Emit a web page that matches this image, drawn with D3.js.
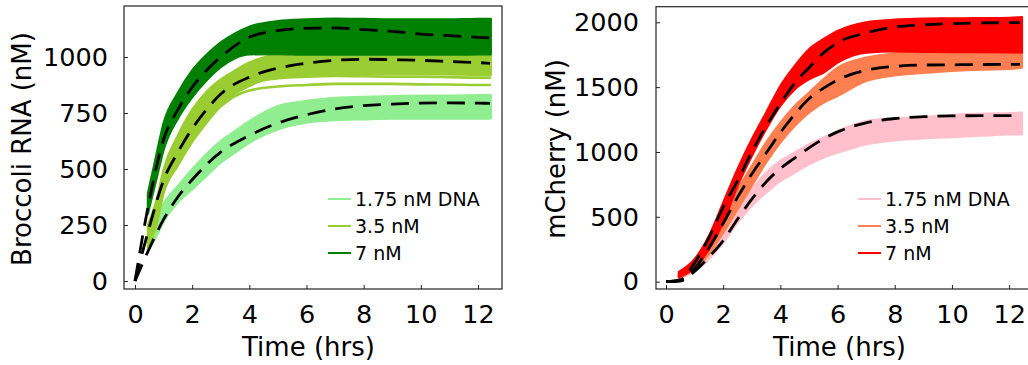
<!DOCTYPE html>
<html lang="en">
<head>
<meta charset="utf-8">
<title>Broccoli RNA and mCherry</title>
<script src="https://cdn.jsdelivr.net/npm/d3@7/dist/d3.min.js"></script>
<style>
body { margin: 0; background: #fff; }
svg { display: block; }
text { font-family: "DejaVu Sans", sans-serif; fill: #000; }
.axis path { display: none; }
.axis line { stroke: #222; stroke-width: 1; }
.axis text { font-size: 25.5px; }
.frame { fill: none; stroke: #222; stroke-width: 1.2; }
</style>
</head>
<body>
<svg id="chart" width="1028" height="365"></svg>
<script>
// ---- data ----
var xTicks = [0, 2, 4, 6, 8, 10, 12];
var rnaTicks = [0, 250, 500, 750, 1000];
var cherryTicks = [0, 500, 1000, 1500, 2000];
var legendLabels = ["1.75 nM DNA", "3.5 nM", "7 nM"];
var greens = ["#90ee90", "#9acd32", "#008000"];
var reds = ["#ffc0cb", "#ff7f50", "#ff0000"];

// Broccoli replicate envelopes (nM)
var rnaT      = [0.45, 0.75, 1, 1.5, 2, 2.5, 3, 3.5, 4, 5, 6, 7, 8, 9, 10, 11, 12, 12.45];
var rna175Lo  = [130, 200, 265, 350, 409, 469, 528, 573, 617, 677, 707, 718, 722, 725, 725, 725, 725, 725];
var rna175Hi  = [200, 280, 345, 424, 499, 567, 625, 670, 714, 781, 804, 818, 822, 826, 828, 828, 830, 830];
var rna35Lo   = [150, 250, 390, 515, 620, 705, 780, 835, 870, 915, 920, 922, 922, 922, 922, 922, 920, 920];
var rna35Hi   = [250, 360, 500, 650, 765, 845, 900, 940, 975, 1015, 1035, 1035, 1035, 1035, 1035, 1035, 1035, 1035];
var rna7Lo    = [300, 455, 585, 725, 820, 895, 955, 995, 1012, 1013, 1010, 1010, 1010, 1010, 1010, 1010, 1012, 1012];
var rna7Hi    = [390, 565, 705, 840, 940, 1010, 1065, 1105, 1135, 1160, 1168, 1172, 1170, 1168, 1168, 1168, 1170, 1170];
// a couple of 3.5 nM traces that sit below the main band
var strayT    = [3, 3.5, 4, 5, 6, 7, 8, 9, 10, 11, 12, 12.45];
var strayA    = [800, 850, 880, 905, 912, 915, 914, 912, 912, 910, 908, 908];
var strayB    = [780, 825, 850, 868, 875, 880, 880, 880, 878, 877, 875, 875];

// Broccoli model fits
var fitT      = [0, 0.5, 1, 1.5, 2, 2.5, 3, 4, 5, 6, 7, 8, 9, 10, 11, 12, 12.42];
var fit175    = [0, 145, 275, 375, 452, 520, 575, 650, 705, 742, 768, 783, 790, 794, 795, 794, 793];
var fit35     = [0, 240, 450, 575, 680, 765, 835, 910, 950, 972, 985, 990, 988, 985, 980, 975, 972];
var fit7      = [0, 360, 632, 765, 865, 940, 1000, 1088, 1118, 1128, 1130, 1122, 1114, 1102, 1095, 1088, 1085];

// mCherry replicate envelopes (nM)
var cheT      = [0.45, 1, 1.5, 2, 2.5, 3, 3.5, 4, 4.5, 5, 5.5, 6, 7, 8, 9, 10, 11, 12, 12.45];
var che175Lo  = [25, 80, 173, 301, 455, 584, 686, 776, 840, 905, 956, 995, 1059, 1090, 1105, 1115, 1125, 1135, 1137];
var che175Hi  = [55, 150, 275, 429, 584, 712, 840, 931, 995, 1059, 1110, 1162, 1239, 1258, 1270, 1285, 1295, 1300, 1303];
var che35Lo   = [30, 96, 211, 378, 558, 738, 917, 1072, 1200, 1303, 1380, 1432, 1547, 1590, 1610, 1625, 1635, 1640, 1650];
var che35Hi   = [65, 173, 327, 532, 712, 892, 1072, 1226, 1355, 1457, 1560, 1650, 1727, 1760, 1780, 1790, 1800, 1800, 1800];
var che7Lo    = [35, 108, 250, 455, 738, 969, 1175, 1355, 1483, 1560, 1611, 1689, 1766, 1775, 1772, 1770, 1770, 1768, 1766];
var che7Hi    = [75, 173, 352, 609, 867, 1098, 1303, 1509, 1663, 1792, 1869, 1933, 2000, 2020, 2028, 2030, 2032, 2035, 2040];

// mCherry model fits
var cfitT     = [0, 0.5, 1, 1.5, 2, 2.5, 3, 3.5, 4, 4.5, 5, 5.5, 6, 7, 8, 9, 10, 11, 12, 12.38];
var cfit175   = [0, 5, 80, 190, 317, 482, 636, 769, 873, 953, 1032, 1100, 1155, 1225, 1258, 1272, 1278, 1280, 1280, 1280];
var cfit35    = [0, 10, 100, 260, 450, 650, 830, 990, 1150, 1290, 1410, 1490, 1555, 1630, 1660, 1670, 1672, 1674, 1675, 1675];
var cfit7     = [0, 15, 145, 340, 575, 777, 1000, 1199, 1372, 1531, 1650, 1762, 1842, 1918, 1963, 1980, 1990, 1995, 1997, 1998];

var svg = d3.select("#chart");

function zip(t, v) { return t.map(function(d, i) { return [d, v[i]]; }); }
function band(t, lo, hi) { return t.map(function(d, i) { return { t: d, lo: lo[i], hi: hi[i] }; }); }

function panel(opt) {
  var x = d3.scaleLinear().domain(opt.xDomain).range([opt.left, opt.right]);
  var y = d3.scaleLinear().domain(opt.yDomain).range([opt.bottom, opt.top]);
  var g = svg.append("g");

  var area = d3.area()
      .curve(d3.curveMonotoneX)
      .x(function(d) { return x(d.t); })
      .y0(function(d) { return y(d.lo); })
      .y1(function(d) { return y(d.hi); });
  var line = d3.line()
      .curve(d3.curveMonotoneX)
      .x(function(d) { return x(d[0]); })
      .y(function(d) { return y(d[1]); });

  opt.bands.forEach(function(b, i) {
    g.append("path")
      .datum(b)
      .attr("d", area)
      .attr("fill", opt.colors[i])
      .attr("stroke", opt.colors[i])
      .attr("stroke-width", 2.2)
      .attr("stroke-linejoin", "round");
    if (i == 1 && opt.strays) {
      opt.strays.forEach(function(s) {
        g.append("path").datum(s).attr("d", line)
          .attr("fill", "none").attr("stroke", opt.colors[1]).attr("stroke-width", 2.6);
      });
    }
  });

  opt.fits.forEach(function(f) {
    g.append("path")
      .datum(f)
      .attr("d", line)
      .attr("fill", "none")
      .attr("stroke", "#000")
      .attr("stroke-width", 2.8)
      .attr("stroke-dasharray", "18,10");
  });

  // frame
  g.append("rect")
    .attr("class", "frame")
    .attr("x", opt.left).attr("y", opt.top)
    .attr("width", opt.right - opt.left).attr("height", opt.bottom - opt.top);

  g.append("g")
      .attr("class", "axis")
      .attr("transform", "translate(0," + opt.bottom + ")")
      .call(d3.axisBottom(x).tickValues(xTicks).tickSize(-4).tickPadding(16).tickFormat(d3.format("d")));

  g.append("g")
      .attr("class", "axis")
      .attr("transform", "translate(" + opt.left + ",0)")
      .call(d3.axisLeft(y).tickValues(opt.yTicks).tickSize(-4).tickPadding(opt.yPad).tickFormat(d3.format("d")));

  g.append("text")
      .attr("x", (x(0) + x(12)) / 2 + 2)
      .attr("y", 356)
      .attr("text-anchor", "middle")
      .style("font-size", "26px")
      .text("Time (hrs)");

  g.append("text")
      .attr("transform", "translate(" + opt.labelX + ",149) rotate(-90)")
      .attr("text-anchor", "middle")
      .style("font-size", "26px")
      .text(opt.yLabel);

  // legend
  var lg = g.append("g");
  legendLabels.forEach(function(lab, i) {
    var cy = 199 + i * 27;
    lg.append("line")
      .attr("x1", opt.legendX).attr("x2", opt.legendX + 23)
      .attr("y1", cy).attr("y2", cy)
      .attr("stroke", opt.colors[i]).attr("stroke-width", 2);
    lg.append("text")
      .attr("x", opt.legendX + 27)
      .attr("y", cy + 7)
      .style("font-size", "19px")
      .text(lab);
  });
}

panel({
  left: 124, right: 502, top: 6, bottom: 289,
  xDomain: [-0.385, 12.84], yDomain: [-35.7, 1227.7],
  yTicks: rnaTicks, yPad: 16, labelX: 31,
  yLabel: "Broccoli RNA (nM)",
  colors: greens, legendX: 328,
  bands: [band(rnaT, rna175Lo, rna175Hi), band(rnaT, rna35Lo, rna35Hi), band(rnaT, rna7Lo, rna7Hi)],
  strays: [zip(strayT, strayA), zip(strayT, strayB)],
  fits: [zip(fitT, fit175), zip(fitT, fit35), zip(fitT, fit7)]
});

panel({
  left: 656, right: 1034, top: 6.7, bottom: 289,
  xDomain: [-0.35, 12.87], yDomain: [-56.3, 2120],
  yTicks: cherryTicks, yPad: 17, labelX: 565,
  yLabel: "mCherry (nM)",
  colors: reds, legendX: 858,
  bands: [band(cheT, che175Lo, che175Hi), band(cheT, che35Lo, che35Hi), band(cheT, che7Lo, che7Hi)],
  fits: [zip(cfitT, cfit175), zip(cfitT, cfit35), zip(cfitT, cfit7)]
});
</script>
</body>
</html>
